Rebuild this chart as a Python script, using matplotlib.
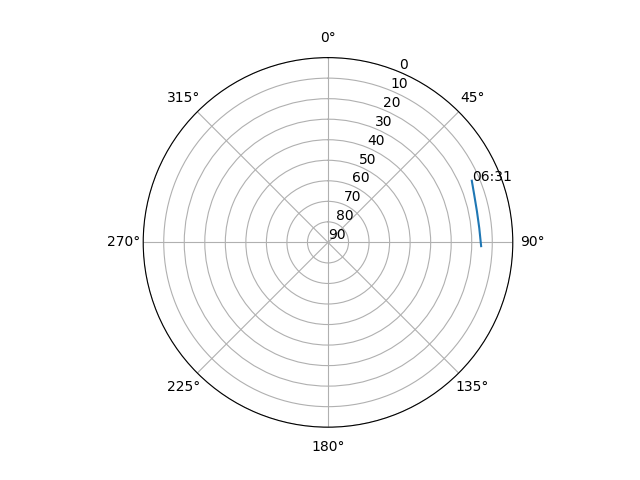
import matplotlib.pyplot as plt
import numpy as np

# sun track (azimuth in degrees, altitude in degrees)
azimuth = [66.8, 71.9, 78.2, 84.6, 91.4]
altitude = [13.8, 15.1, 15.9, 16.0, 15.4]
start_label = '06:31'

fig = plt.figure(figsize=(6.4, 4.8), dpi=100)
ax = fig.add_subplot(projection='polar')
ax.set_theta_zero_location('N')
ax.set_theta_direction(-1)

ax.plot(np.radians(azimuth), altitude)
ax.text(np.radians(azimuth[0]), altitude[0], start_label)

ax.set_yticks(range(0, 91, 10))
ax.set_ylim(90, 0)

plt.savefig('out.png')
